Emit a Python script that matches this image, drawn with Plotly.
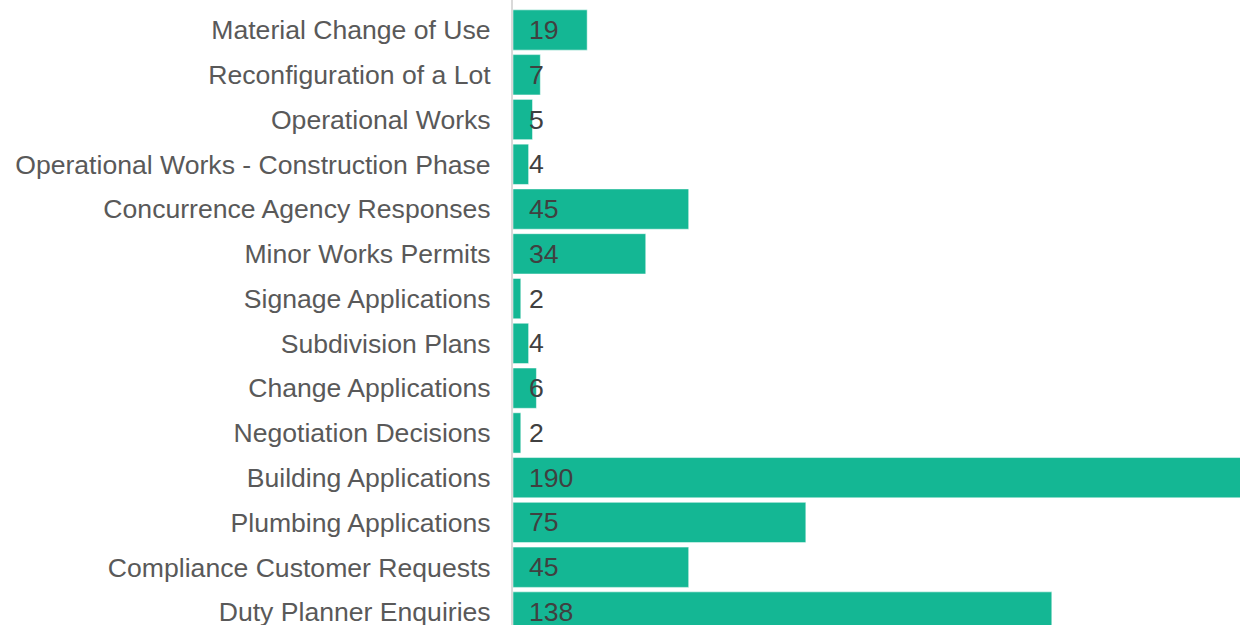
import plotly.graph_objects as go

categories = [
    "Material Change of Use",
    "Reconfiguration of a Lot",
    "Operational Works",
    "Operational Works - Construction Phase",
    "Concurrence Agency Responses",
    "Minor Works Permits",
    "Signage Applications",
    "Subdivision Plans",
    "Change Applications",
    "Negotiation Decisions",
    "Building Applications",
    "Plumbing Applications",
    "Compliance Customer Requests",
    "Duty Planner Enquiries",
]
values = [19, 7, 5, 4, 45, 34, 2, 4, 6, 2, 190, 75, 45, 138]

BAR = "#14B794"
FONT = "Liberation Sans, Arial, sans-serif"
FS = 26.6

fig = go.Figure()
fig.add_trace(go.Bar(
    y=categories,
    x=values,
    orientation="h",
    marker=dict(color=BAR, line=dict(color="rgba(255,255,255,0.5)", width=1)),
    width=0.9,
    hoverinfo="x+y",
))

for c, v in zip(categories, values):
    fig.add_annotation(
        x=0, y=c, xref="x", yref="y",
        text=str(v), showarrow=False,
        xanchor="left", yanchor="middle", xshift=14,
        font=dict(family=FONT, size=FS, color="#404040"),
    )

fig.update_layout(
    width=1240, height=625,
    margin=dict(l=513, r=0, t=0, b=0),
    paper_bgcolor="white", plot_bgcolor="white",
    showlegend=False,
    bargap=0.1,
    font=dict(family=FONT, size=FS, color="#595959"),
)
fig.update_xaxes(
    range=[0, 186.2], showgrid=False, zeroline=False,
    showticklabels=False, showline=False, fixedrange=True,
)
fig.update_yaxes(
    categoryorder="array", categoryarray=categories,
    range=[13.29, -0.67], showgrid=False, zeroline=False,
    showline=True, linecolor="#D9D9D9", linewidth=2,
    ticks="", ticklabelstandoff=15,
    tickfont=dict(family=FONT, size=FS, color="#595959"),
    automargin=False,
)

fig.write_html(
    "out.html",
    config={"displayModeBar": False},
    post_script="document.body.style.margin='0';document.body.style.overflow='hidden';",
)
